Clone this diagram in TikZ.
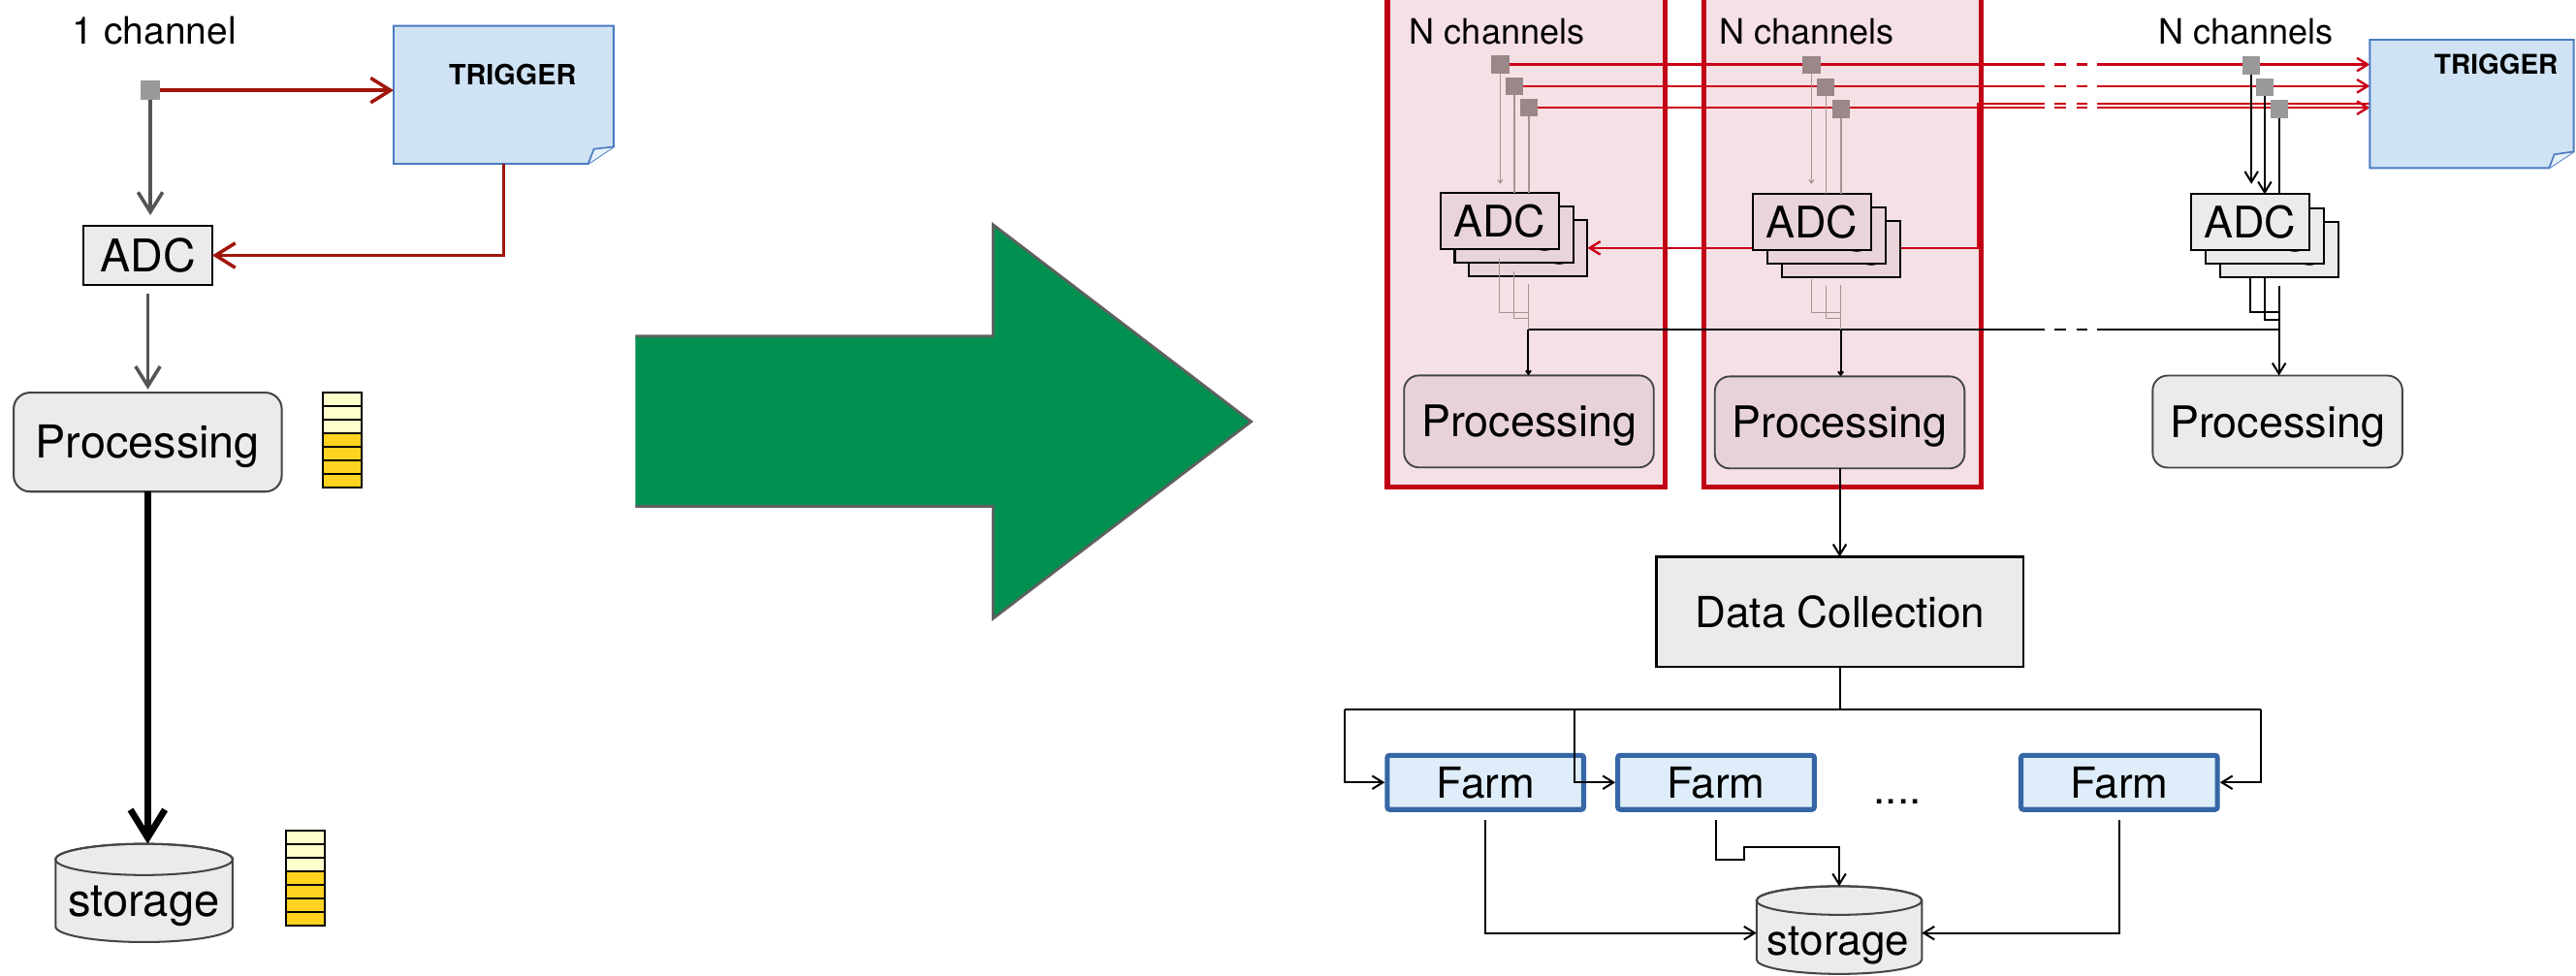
\documentclass[tikz,border=0pt]{standalone}
\usepackage{fontspec}
\setmainfont{TeX Gyre Heros}
\usetikzlibrary{arrows.meta,calc}
\definecolor{redbox}{HTML}{C00015}
\definecolor{pinkbg}{HTML}{F5E0E5}
\definecolor{procpink}{HTML}{E7D3D7}
\definecolor{adcpink}{HTML}{E9D5D9}
\definecolor{sqpink}{HTML}{9A8787}
\definecolor{sqgrey}{HTML}{999999}
\definecolor{redR}{HTML}{CC0018}
\definecolor{redL}{HTML}{A0160C}
\definecolor{greyL}{HTML}{555555}
\definecolor{thinl}{HTML}{A39393}
\definecolor{trigfill}{HTML}{CFE3F4}
\definecolor{trigedge}{HTML}{4A7BC2}
\definecolor{trigfold}{HTML}{E6F0FA}
\definecolor{farmfill}{HTML}{DEEDF9}
\definecolor{farmedge}{HTML}{3566A6}
\definecolor{lgrey}{HTML}{EBEBEB}
\definecolor{procedge}{HTML}{454545}
\definecolor{yl}{HTML}{FFFFCC}
\definecolor{yd}{HTML}{FFD320}
\definecolor{greenA}{HTML}{00904F}
\definecolor{greenE}{HTML}{606060}
\newcommand{\myfs}[1]{\fontsize{#1pt}{#1pt}\selectfont}
\begin{document}
\begin{tikzpicture}[x=1pt,y=-1pt,
  every node/.style={inner sep=0pt, outer sep=0pt},
  txt/.style={anchor=base, font=\myfs{#1}},
  sqbox/.style={rectangle, minimum width=10.8pt, minimum height=10.8pt},
  adcL/.style={rectangle, draw=black, fill=lgrey, line width=1.3pt, minimum width=78.5pt, minimum height=36.4pt, font=\myfs{27.5}, text height=19.8pt, text depth=0pt},
  procL/.style={rectangle, rounded corners=10pt, draw=procedge, fill=lgrey, line width=1.2pt, minimum width=163.2pt, minimum height=60.3pt, font=\myfs{27.6}, text height=19.8pt, text depth=0pt},
  adcR/.style={rectangle, draw=black, line width=1.2pt, minimum width=72pt, minimum height=33.9pt, font=\myfs{26.5}, text height=19pt, text depth=0pt},
  procR/.style={rectangle, rounded corners=9pt, draw=procedge, line width=1.1pt, minimum width=152pt, minimum height=56pt, font=\myfs{26.5}, text height=19pt, text depth=0pt},
  dcbox/.style={rectangle, draw=black, fill=lgrey, line width=1.3pt, minimum width=223.6pt, minimum height=67.2pt, font=\myfs{26}, text height=18.7pt, text depth=0pt},
  farmbox/.style={rectangle, rounded corners=1.5pt, draw=farmedge, fill=farmfill, line width=3pt, outer sep=1.5pt, minimum width=119.6pt, minimum height=33pt, font=\myfs{26}, text height=18.7pt, text depth=0pt},
  rframe/.style={rectangle, draw=redbox, fill=pinkbg, line width=3pt},
  trigbody/.style={draw=trigedge, fill=trigfill, line width=1.1pt, line join=miter},
  cyl/.style={draw=procedge, fill=lgrey, line width=1.2pt},
  cell/.style={draw=black, line width=1.1pt},
  redLn/.style={draw=redL, line width=2.1pt},
  greyLn/.style={draw=greyL, line width=2.1pt},
  redRn/.style={draw=redR, line width=1.4pt},
  blkR/.style={draw=black, line width=1.2pt},
  thinLn/.style={draw=thinl, line width=0.7pt},
  arrL/.style={-{Straight Barb[length=12pt,width=15pt]}},
  arrBig/.style={-{Straight Barb[length=17pt,width=21pt]}},
  arrS/.style={-{Straight Barb[length=6.5pt,width=8pt]}},
  arrT/.style={-{Straight Barb[length=2pt,width=3pt]}}
]
\clip (0,0) rectangle (1568,594);
\fill[white] (0,0) rectangle (1568,594);

% ---------------- green arrow
\fill[greenA] (386.7,204.6) -- (604.4,204.6) -- (604.4,136.7) -- (761.6,256.7) -- (604.4,376.7) -- (604.4,308.4) -- (386.7,308.4) -- cycle;
\draw[greenE, line width=1.6pt, line join=miter] (386.7,204.6) -- (604.4,204.6) -- (604.4,136.7) -- (761.6,256.7) -- (604.4,376.7) -- (604.4,308.4) -- (386.7,308.4);

% ---------------- left part
\node[txt=23] (ch1) at (94,27) {1 channel};
\node[sqbox, fill=sqgrey, minimum width=11.5pt, minimum height=11.5pt] (s0) at (91.5,55) {};
\node[rectangle, minimum width=133.9pt, minimum height=84pt] (trig1) at (306.55,57.7) {};
\draw[trigbody] (trig1.north west) -- (trig1.north east) -- ($(trig1.south east)+(0,-10.3)$) -- ($(trig1.south east)+(-15.5,0)$) -- (trig1.south west) -- cycle;
\draw[draw=trigedge, fill=trigfold, line width=1pt, line join=round] ($(trig1.south east)+(-15.5,0)$) -- ($(trig1.south east)+(-12,-9)$) -- ($(trig1.south east)+(0,-10.3)$);
\node[anchor=base, font=\myfs{17}\bfseries] (tt1) at (312,51.5) {TRIGGER};
\node[adcL] (adc0) at (90,155.5) {ADC};
\node[procL] (pr0) at (89.9,269.2) {Processing};
\foreach \i in {0,1,2} \draw[cell, fill=yl] (196.7,{239+8.24*\i}) rectangle ++(23.3,8.24);
\foreach \i in {3,4,5,6} \draw[cell, fill=yd] (196.7,{239+8.24*\i}) rectangle ++(23.3,8.24);
\node[rectangle, minimum width=107.8pt, minimum height=59.8pt] (st0) at (87.7,543.7) {};
\draw[cyl] (33.8,523.3) -- (33.8,564.1) arc[start angle=180, end angle=360, x radius=53.9pt, y radius=9.5pt] -- (141.6,523.3) arc[start angle=0, end angle=180, x radius=53.9pt, y radius=9.5pt] -- cycle;
\draw[cyl, fill=none] (87.7,523.3) ellipse [x radius=53.9pt, y radius=9.5pt];
\node[txt=27.8] (stt0) at (87.5,557.7) {storage};
\foreach \i in {0,1,2} \draw[cell, fill=yl] (174.3,{505.6+8.26*\i}) rectangle ++(23.2,8.26);
\foreach \i in {3,4,5,6} \draw[cell, fill=yd] (174.3,{505.6+8.26*\i}) rectangle ++(23.2,8.26);

\draw[redLn, arrL] (s0.east) -- (s0.east -| trig1.west);
\draw[redLn, arrL] (trig1.south) |- (adc0.east);
\draw[greyLn, arrL, shorten >=6.3pt] (s0.south) -- (s0.south |- adc0.north);
\draw[greyLn, arrL, shorten <=5.3pt, shorten >=2pt] (adc0.south) -- (adc0.south |- pr0.north);
\draw[line width=4pt, arrBig] (pr0.south) -- (pr0.south |- st0.north);

% ---------------- right part: frames
\node[rframe, minimum width=168.9pt, minimum height=306.6pt] (rb1) at (928.95,143.3) {};
\node[rframe, minimum width=168.5pt, minimum height=306.6pt] (rb2) at (1121.55,143.3) {};
\node[txt=21.3] (nc1) at (911.2,27) {N channels};
\node[txt=21.3] (nc2) at (1099.6,27) {N channels};
\node[txt=21.3] (nc3) at (1367,27) {N channels};

% squares (placed now, filled later on top)
\path node[sqbox] (s11) at (913.2,39.3) {} node[sqbox] (s12) at (921.8,52.4) {} node[sqbox] (s13) at (930.6,65.6) {}
      node[sqbox] (s21) at (1102.6,39.7) {} node[sqbox] (s22) at (1111.4,53) {} node[sqbox] (s23) at (1120.7,66.4) {}
      node[sqbox] (s31) at (1370.4,39.8) {} node[sqbox] (s32) at (1378.5,53) {} node[sqbox] (s33) at (1387.6,66.4) {};
\node[rectangle, minimum width=124.1pt, minimum height=78.1pt] (trig2) at (1504.55,63.25) {};

% back ADC of stack 1 (target of the return line)
\path node[adcR, fill=adcpink] (a13) at (930.3,151.15) {ADC};

% red trigger lines
\draw[redRn, arrS, dash pattern=on 325.7pt off 6.2pt on 6.9pt off 6.5pt on 6.9pt off 5.5pt on 600pt] (s11.east) -- (s11.east -| trig2.west);
\draw[redRn, arrS, dash pattern=on 317.1pt off 6.2pt on 6.9pt off 6.5pt on 6.9pt off 5.5pt on 600pt] (s12.east) -- (s12.east -| trig2.west);
\draw[redRn, arrS, dash pattern=on 308.3pt off 6.2pt on 6.9pt off 6.5pt on 6.9pt off 5.5pt on 600pt] (s13.east) -- (s13.east -| trig2.west);
\coordinate (r1) at (1203.8,63.2);
\coordinate (r2) at (1203.8,151);
\draw[redRn, arrS, dash pattern=on 166.2pt off 5.5pt on 6.9pt off 6.5pt on 6.9pt off 6.2pt on 1000pt] (r1 -| trig2.west) -- (r1) -- (r2) -- (r2 -| a13.east);

% bus line
\coordinate (bus1) at (930.3,200.6);
\coordinate (bus2) at (1120.4,200.6);
\coordinate (bus3) at (1387.2,200.6);
\draw[blkR, dash pattern=on 314pt off 6.2pt on 6.9pt off 6.5pt on 6.9pt off 5.5pt on 600pt] (bus1) -- (bus3);

% ADC stacks
\node[adcR, fill=adcpink] (a12) at (921.5,142.85) {ADC};
\node[adcR, fill=adcpink] (a11) at (912.7,134.55) {ADC};
\node[adcR, fill=adcpink] (a23) at (1120.4,151.7) {ADC};
\node[adcR, fill=adcpink] (a22) at (1111.6,143.4) {ADC};
\node[adcR, fill=adcpink] (a21) at (1102.8,135.1) {ADC};
\node[adcR, fill=lgrey] (a33) at (1387.2,151.85) {ADC};
\node[adcR, fill=lgrey] (a32) at (1378.4,143.55) {ADC};
\node[adcR, fill=lgrey] (a31) at (1369.6,135.25) {ADC};

% input lines
\draw[thinLn, arrT] (s11.south) -- ++(0,67.3);
\draw[thinLn] (s12.south) -- (s12.south |- a11.north);
\draw[thinLn] (s13.south) -- (s13.south |- a11.north);
\draw[thinLn, arrT] (s21.south) -- ++(0,66.9);
\draw[thinLn] (s22.south) -- (s22.south |- a21.north);
\draw[thinLn] (s23.south) -- (s23.south |- a21.north);
\draw[blkR, arrS] (s31.south) -- ++(0,66.8);
\draw[blkR, arrS] (s32.south) -- (s32.south |- a31.north);
\draw[blkR] (s33.south) -- (s33.south |- a31.north);

% output lines
\coordinate (j11) at (930.3,190.2);
\coordinate (j12) at (930.3,194);
\draw[thinLn] ($(a11.south)+(0,6)$) |- (j11);
\draw[thinLn] ($(a12.south)+(0,5.5)$) |- (j12);
\draw[thinLn] ($(a13.south)+(0,5)$) -- (bus1);
\coordinate (j21) at (1120.4,190.2);
\coordinate (j22) at (1120.4,194);
\draw[thinLn] ($(a21.south)+(0,18)$) |- (j21);
\draw[thinLn] ($(a22.south)+(0,14)$) |- (j22);
\draw[thinLn] ($(a23.south)+(0,5)$) -- (bus2);
\coordinate (j31) at (1387.2,190.2);
\coordinate (j32) at (1387.2,194.7);
\draw[blkR] (a31.south |- a33.south) |- (j31);
\draw[blkR] (a32.south |- a33.south) |- (j32);

% squares on top
\foreach \n in {s11,s12,s13,s21,s22,s23} \fill[sqpink] (\n.south west) rectangle (\n.north east);
\foreach \n in {s31,s32,s33} \fill[sqgrey] (\n.south west) rectangle (\n.north east);

% processing
\node[procR, fill=procpink] (pr1) at (930.65,256.6) {Processing};
\node[procR, fill=procpink] (pr2) at (1119.8,257.2) {Processing};
\node[procR, fill=lgrey] (pr3) at (1386.3,256.7) {Processing};
\draw[blkR, arrT] (bus1) -- (bus1 |- pr1.north);
\draw[blkR, arrT] (bus2) -- (bus2 |- pr2.north);
\draw[blkR, arrS] ($(a33.south)+(0,5.4)$) -- (a33.south |- pr3.north);

% trigger right
\draw[trigbody] (trig2.north west) -- (trig2.north east) -- ($(trig2.south east)+(0,-10)$) -- ($(trig2.south east)+(-15,0)$) -- (trig2.south west) -- cycle;
\draw[draw=trigedge, fill=trigfold, line width=1pt, line join=round] ($(trig2.south east)+(-15,0)$) -- ($(trig2.south east)+(-11.8,-8.3)$) -- ($(trig2.south east)+(0,-10)$);
\node[anchor=base, font=\myfs{16.5}\bfseries] (tt2) at (1519.4,45.3) {TRIGGER};

% data collection and farms
\node[dcbox] (dc) at (1120,372.6) {Data Collection};
\draw[blkR, arrS] (pr2.south) -- (pr2.south |- dc.north);
\node[farmbox] (f1) at (904.2,476.4) {Farm};
\node[farmbox] (f2) at (1044.55,476.4) {Farm};
\node[farmbox] (f3) at (1289.95,476.4) {Farm};
\node[txt=26] (dots) at (1155,489.8) {....};
\coordinate (bL) at (818.7,432.2);
\coordinate (bM) at (958.4,432.2);
\coordinate (bR) at (1376,432.2);
\draw[blkR] (dc.south) -- (dc.south |- bL);
\draw[blkR] (bL) -- (bR);
\draw[blkR, arrS] (bL) |- (f1.west);
\draw[blkR, arrS] (bM) |- (f2.west);
\draw[blkR, arrS] (bR) |- (f3.east);

% storage right
\node[rectangle, minimum width=100.6pt, minimum height=57pt] (stR) at (1119.5,568.1) {};
\draw[cyl] (1069.2,548.3) -- (1069.2,584.3) arc[start angle=180, end angle=360, x radius=50.3pt, y radius=8.7pt] -- (1169.8,548.3) arc[start angle=0, end angle=180, x radius=50.3pt, y radius=8.7pt] -- cycle;
\draw[cyl, fill=none] (1119.5,548.3) ellipse [x radius=50.3pt, y radius=8.7pt];
\node[txt=26] (stt1) at (1118.9,581.3) {storage};
\draw[blkR, arrS] ($(f1.south)+(0,5)$) |- (stR.west);
\draw[blkR, arrS] ($(f2.south)+(0,5)$) -- ++(0,24) -- ++(17.1,0) -- ++(0,-7.8) -| (stR.north);
\draw[blkR, arrS] ($(f3.south)+(0,5)$) |- (stR.east);
\end{tikzpicture}
\end{document}
